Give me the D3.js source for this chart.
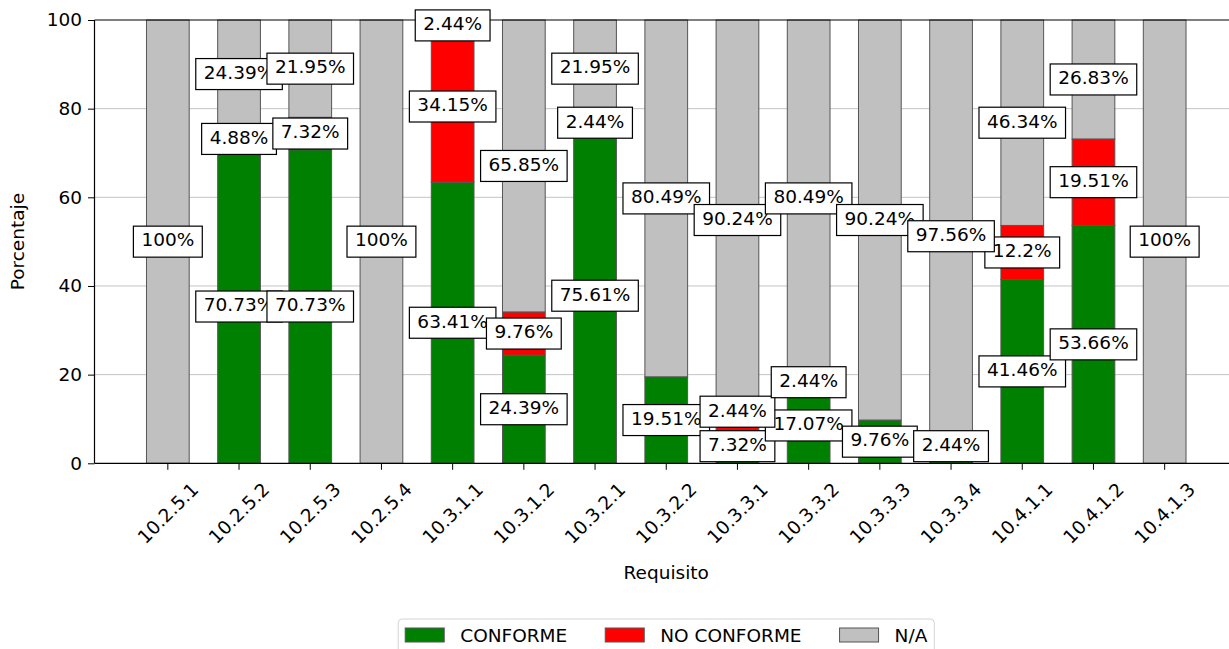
<!DOCTYPE html>
<html>
<head>
<meta charset="utf-8">
<script src="https://cdn.jsdelivr.net/npm/d3@7"></script>
<style>
  body { margin: 0; background: #fff; }
  svg { display: block; font-family: 'DejaVu Sans', sans-serif; }
</style>
</head>
<body>
<svg id="chart" width="1229" height="649"></svg>
<script>
const requisitos = ['10.2.5.1', '10.2.5.2', '10.2.5.3', '10.2.5.4', '10.3.1.1', '10.3.1.2', '10.3.2.1', '10.3.2.2',
  '10.3.3.1', '10.3.3.2', '10.3.3.3', '10.3.3.4', '10.4.1.1', '10.4.1.2', '10.4.1.3'];
const conforme = [0, 70.73, 70.73, 0, 63.41, 24.39, 75.61, 19.51, 7.32, 17.07, 9.76, 2.44, 41.46, 53.66, 0];
const noConforme = [0, 4.88, 7.32, 0, 34.15, 9.76, 2.44, 0, 2.44, 2.44, 0, 0, 12.2, 19.51, 0];
const noAplica = [100, 24.39, 21.95, 100, 2.44, 65.85, 21.95, 80.49, 90.24, 80.49, 90.24, 97.56, 46.34, 26.83, 100];
const yTicks = [0, 20, 40, 60, 80, 100];
const seriesNames = ['CONFORME', 'NO CONFORME', 'N/A'];
const seriesColors = ['#008000', '#ff0000', '#c0c0c0'];

const svg = d3.select('#chart');
const fontSize = 18.5;
const plot = { left: 94.5, right: 1238, top: 20, bottom: 463.3 };

// table for the stack
const rows = requisitos.map((r, i) => ({
  req: r,
  [seriesNames[0]]: conforme[i],
  [seriesNames[1]]: noConforme[i],
  [seriesNames[2]]: noAplica[i],
}));
const stacked = d3.stack().keys(seriesNames)(rows);

const x = d3.scaleBand()
  .domain(requisitos)
  .range([plot.left, plot.right])
  .paddingInner(0.4)
  .paddingOuter(0.73);
const y = d3.scaleLinear().domain([0, 100]).range([plot.bottom, plot.top]);

// grid behind the bars
svg.append('g')
  .selectAll('line')
  .data(yTicks.filter((t) => t > 0 && t < 100))
  .join('line')
  .attr('x1', plot.left)
  .attr('x2', plot.right)
  .attr('y1', (d) => y(d))
  .attr('y2', (d) => y(d))
  .attr('stroke', '#c4c4c4')
  .attr('stroke-width', 1);

// bars
svg.append('g')
  .selectAll('g')
  .data(stacked)
  .join('g')
  .attr('fill', (d, i) => seriesColors[i])
  .selectAll('rect')
  .data((d) => d.filter((s) => s[1] - s[0] > 0))
  .join('rect')
  .attr('x', (d) => x(d.data.req))
  .attr('width', x.bandwidth())
  .attr('y', (d) => y(d[1]))
  .attr('height', (d) => y(d[0]) - y(d[1]))
  .attr('stroke', '#555')
  .attr('stroke-width', 1);

// axes frame (top, left, bottom spines)
const spines = svg.append('g').attr('stroke', '#000').attr('stroke-width', 1.2);
spines.append('line').attr('x1', plot.left).attr('x2', plot.right).attr('y1', plot.top).attr('y2', plot.top);
spines.append('line').attr('x1', plot.left).attr('x2', plot.right).attr('y1', plot.bottom).attr('y2', plot.bottom);
spines.append('line').attr('x1', plot.left).attr('x2', plot.left).attr('y1', plot.top).attr('y2', plot.bottom);

// y axis
const yAxis = svg.append('g')
  .attr('transform', `translate(${plot.left},0)`)
  .call(d3.axisLeft(y).tickValues(yTicks).tickSize(6.5).tickPadding(6));
yAxis.select('.domain').remove();
yAxis.selectAll('text').attr('font-size', fontSize).attr('font-family', 'DejaVu Sans').attr('fill', '#000');
yAxis.selectAll('line').attr('stroke', '#000');

// x axis
const xAxis = svg.append('g')
  .attr('transform', `translate(0,${plot.bottom})`)
  .call(d3.axisBottom(x).tickSize(6.5).tickFormat(''));
xAxis.select('.domain').remove();
xAxis.selectAll('line').attr('stroke', '#000');

const xLabels = svg.append('g');
requisitos.forEach((r) => {
  const t = xLabels.append('text')
    .attr('font-size', fontSize)
    .attr('text-anchor', 'middle')
    .attr('dominant-baseline', 'central')
    .text(r);
  const w = t.node().getComputedTextLength();
  const half = (w + fontSize * 1.17) * Math.SQRT1_2 / 2;
  const cx = x(r) + x.bandwidth() / 2;
  t.attr('transform', `translate(${cx},${plot.bottom + 15 + half}) rotate(-45)`);
});

// axis titles
svg.append('text')
  .attr('x', (plot.left + plot.right) / 2)
  .attr('y', 579)
  .attr('text-anchor', 'middle')
  .attr('font-size', fontSize)
  .text('Requisito');
svg.append('text')
  .attr('transform', `translate(24,${(plot.top + plot.bottom) / 2}) rotate(-90)`)
  .attr('text-anchor', 'middle')
  .attr('font-size', fontSize)
  .text('Porcentaje');

// value labels: segment centres, nudged up so boxes stay inside the axes and do not overlap
const boxH = 31;
const gap = 3.5;
const labelPos = seriesNames.map(() => []);
requisitos.forEach((r, i) => {
  let prev = null;
  stacked.forEach((s, k) => {
    const seg = s[i];
    const v = seg[1] - seg[0];
    if (v <= 0) return;
    let cy = y((seg[0] + seg[1]) / 2);
    if (prev === null) cy = Math.min(cy, plot.bottom - 1.6 - boxH / 2);
    else cy = Math.min(cy, prev - boxH - gap);
    prev = cy;
    labelPos[k].push({ cx: x(r) + x.bandwidth() / 2, cy, text: `${+v.toFixed(2)}%` });
  });
});

const labels = svg.append('g');
labelPos.forEach((list) => {
  list.forEach((d) => {
    const g = labels.append('g');
    const rect = g.append('rect');
    const t = g.append('text')
      .attr('x', d.cx)
      .attr('y', d.cy + 4.8)
      .attr('text-anchor', 'middle')
      .attr('font-size', fontSize)
      .attr('fill', '#000')
      .text(d.text);
    const w = t.node().getComputedTextLength() + 16;
    rect.attr('x', d.cx - w / 2)
      .attr('y', d.cy - boxH / 2)
      .attr('width', w)
      .attr('height', boxH)
      .attr('fill', '#fff')
      .attr('stroke', '#000')
      .attr('stroke-width', 1.2);
  });
});

// legend
const legend = svg.append('g');
const legendBox = legend.append('rect');
const swatchW = 39;
const swatchH = 14;
const legendY = 635;
let lx = 0;
const items = seriesNames.map((name, i) => {
  const g = legend.append('g');
  g.append('rect')
    .attr('x', lx)
    .attr('y', legendY - swatchH / 2)
    .attr('width', swatchW)
    .attr('height', swatchH)
    .attr('fill', seriesColors[i])
    .attr('stroke', '#555')
    .attr('stroke-width', 1);
  const t = g.append('text')
    .attr('x', lx + swatchW + 16)
    .attr('y', legendY + 6.8)
    .attr('font-size', fontSize)
    .text(name);
  lx += swatchW + 16 + t.node().getComputedTextLength() + 38;
  return g;
});
const legendW = lx - 38;
const legendLeft = (plot.left + plot.right) / 2 - legendW / 2;
items.forEach((g) => g.attr('transform', `translate(${legendLeft},0)`));
legendBox
  .attr('x', legendLeft - 7)
  .attr('y', 619)
  .attr('width', legendW + 14)
  .attr('height', 34)
  .attr('rx', 4)
  .attr('fill', '#fff')
  .attr('stroke', '#d4d4d4')
  .attr('stroke-width', 1);
</script>
</body>
</html>
